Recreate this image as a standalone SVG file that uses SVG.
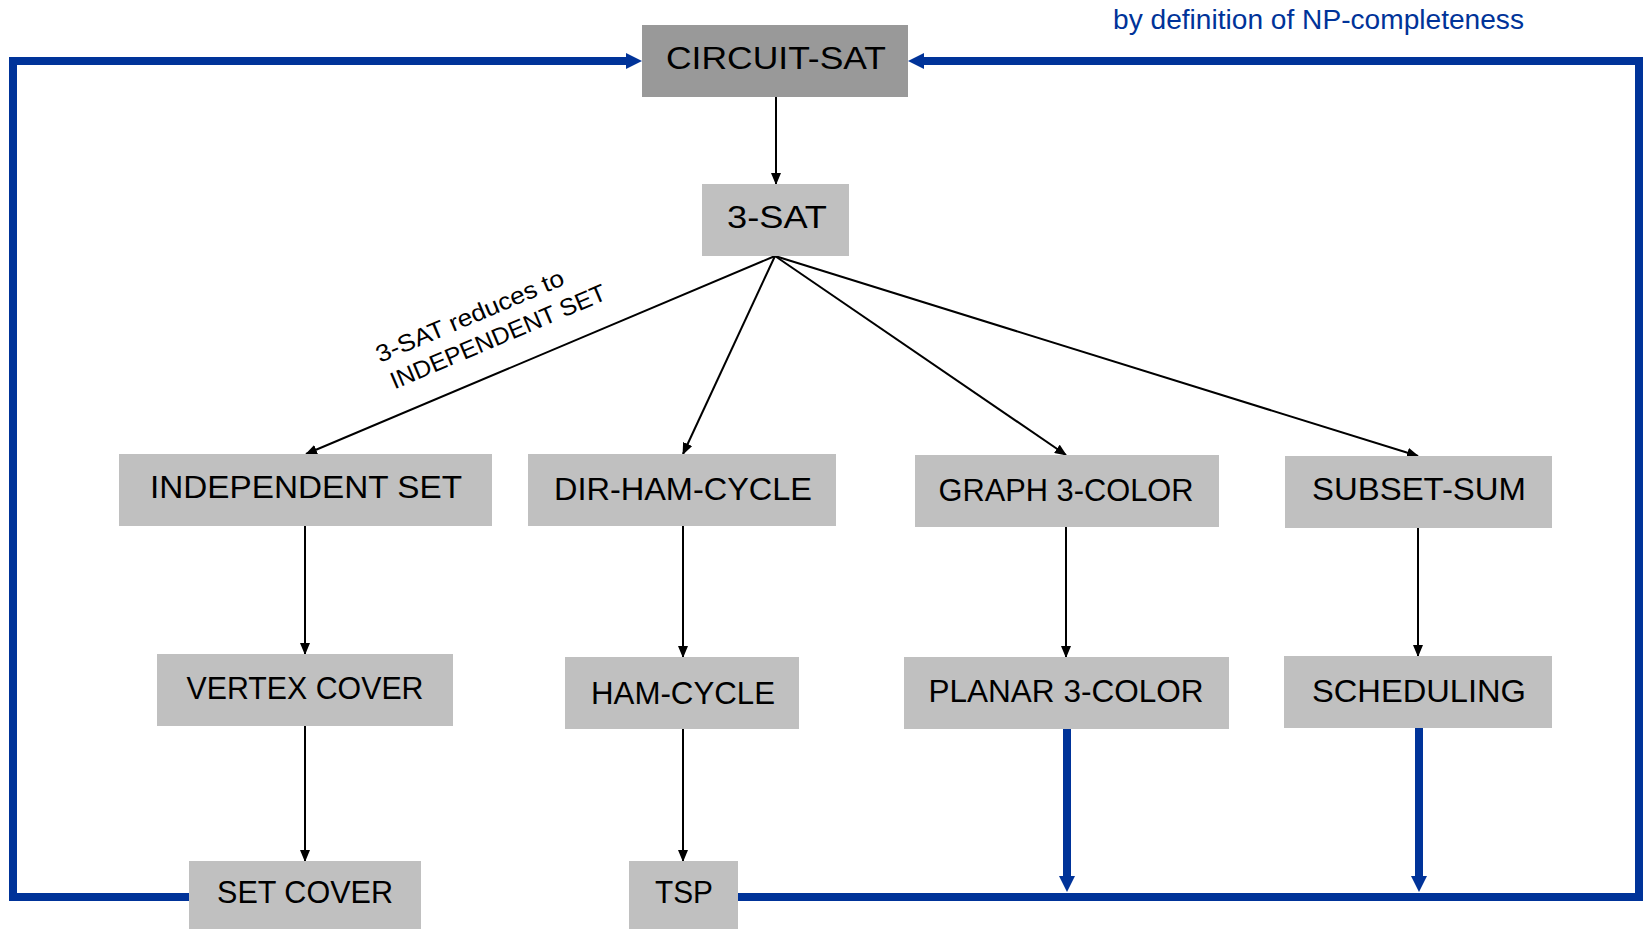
<svg xmlns="http://www.w3.org/2000/svg" width="1643" height="929" viewBox="0 0 1643 929">
<style>
  .box { fill: #C0C0C0; }
  .top { fill: #999999; }
  .lbl { font-family: "Liberation Sans", Arial, sans-serif; font-size: 31px; fill: #000; text-anchor: middle; }
  .note { font-family: "Liberation Sans", Arial, sans-serif; font-size: 24px; fill: #000; }
  .blue-note { font-family: "Liberation Sans", Arial, sans-serif; font-size: 27px; fill: #003399; }
  .thin { stroke: #000; stroke-width: 2; fill: none; marker-end: url(#ah); }
  .thick { stroke: #003399; stroke-width: 8; fill: none; stroke-linejoin: miter; marker-end: url(#bh); }
</style>
<defs>
  <marker id="ah" markerUnits="userSpaceOnUse" markerWidth="12" markerHeight="10" refX="11" refY="5" orient="auto">
    <path d="M0,0 L12,5 L0,10 z" fill="#000"/>
  </marker>
  <marker id="bh" markerUnits="userSpaceOnUse" markerWidth="16" markerHeight="16" refX="0" refY="8" orient="auto">
    <path d="M0,0 L16,8 L0,16 z" fill="#003399"/>
  </marker>
</defs>
<rect width="1643" height="929" fill="#fff"/>

<g id="connectors">
  <path class="thin" d="M776,97 V184"/>
  <path class="thin" d="M775,256 L306,454"/>
  <path class="thin" d="M775,256 L683,454"/>
  <path class="thin" d="M775,256 L1066,455"/>
  <path class="thin" d="M775,256 L1418,456"/>
  <path class="thin" d="M305,526 V654"/>
  <path class="thin" d="M305,726 V861"/>
  <path class="thin" d="M683,526 V657"/>
  <path class="thin" d="M683,729 V861"/>
  <path class="thin" d="M1066,527 V657"/>
  <path class="thin" d="M1418,528 V656"/>
  <path class="thick" d="M189,897 H13 V61 H626"/>
  <path class="thick" d="M737,897 H1639 V61 H924"/>
  <path class="thick" d="M1067,729 V876"/>
  <path class="thick" d="M1419,728 V876"/>
  <g transform="translate(380,363) rotate(-23)">
    <text class="note" x="0" y="0" textLength="202" lengthAdjust="spacingAndGlyphs">3-SAT reduces to</text>
    <text class="note" x="3" y="30" textLength="232" lengthAdjust="spacingAndGlyphs">INDEPENDENT SET</text>
  </g>
</g>

<text class="blue-note" x="1113" y="29" textLength="411" lengthAdjust="spacingAndGlyphs">by definition of NP-completeness</text>

<g id="circuit-sat"><rect class="top" x="642" y="25" width="266" height="72"/><text class="lbl" x="776" y="69" textLength="220" lengthAdjust="spacingAndGlyphs">CIRCUIT-SAT</text></g>
<g id="three-sat"><rect class="box" x="702" y="184" width="147" height="72"/><text class="lbl" x="777" y="228" textLength="100" lengthAdjust="spacingAndGlyphs">3-SAT</text></g>
<g id="independent-set"><rect class="box" x="119" y="454" width="373" height="72"/><text class="lbl" x="306" y="498" textLength="312" lengthAdjust="spacingAndGlyphs">INDEPENDENT SET</text></g>
<g id="dir-ham-cycle"><rect class="box" x="528" y="454" width="308" height="72"/><text class="lbl" x="683" y="500" textLength="258" lengthAdjust="spacingAndGlyphs">DIR-HAM-CYCLE</text></g>
<g id="graph-3-color"><rect class="box" x="915" y="455" width="304" height="72"/><text class="lbl" x="1066" y="501" textLength="255" lengthAdjust="spacingAndGlyphs">GRAPH 3-COLOR</text></g>
<g id="subset-sum"><rect class="box" x="1285" y="456" width="267" height="72"/><text class="lbl" x="1419" y="500" textLength="214" lengthAdjust="spacingAndGlyphs">SUBSET-SUM</text></g>
<g id="vertex-cover"><rect class="box" x="157" y="654" width="296" height="72"/><text class="lbl" x="305" y="699" textLength="237" lengthAdjust="spacingAndGlyphs">VERTEX COVER</text></g>
<g id="ham-cycle"><rect class="box" x="565" y="657" width="234" height="72"/><text class="lbl" x="683" y="704" textLength="184" lengthAdjust="spacingAndGlyphs">HAM-CYCLE</text></g>
<g id="planar-3-color"><rect class="box" x="904" y="657" width="325" height="72"/><text class="lbl" x="1066" y="702" textLength="275" lengthAdjust="spacingAndGlyphs">PLANAR 3-COLOR</text></g>
<g id="scheduling"><rect class="box" x="1284" y="656" width="268" height="72"/><text class="lbl" x="1419" y="702" textLength="214" lengthAdjust="spacingAndGlyphs">SCHEDULING</text></g>
<g id="set-cover"><rect class="box" x="189" y="861" width="232" height="68"/><text class="lbl" x="305" y="903" textLength="176" lengthAdjust="spacingAndGlyphs">SET COVER</text></g>
<g id="tsp"><rect class="box" x="629" y="861" width="109" height="68"/><text class="lbl" x="684" y="903" textLength="58" lengthAdjust="spacingAndGlyphs">TSP</text></g>
</svg>
